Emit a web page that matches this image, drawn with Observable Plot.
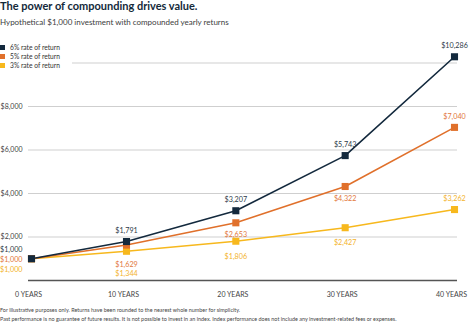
<!DOCTYPE html>
<html><head><meta charset="utf-8">
<script src="https://cdn.jsdelivr.net/npm/d3@7"></script>
<script src="https://cdn.jsdelivr.net/npm/@observablehq/plot@0.6"></script>
<style>
body{margin:0;width:474px;height:329px;overflow:hidden;position:relative;font-family:Lato,"Open Sans",sans-serif;background:#fff}
#title{position:absolute;left:0;top:-1px;font-weight:700;font-size:11px;line-height:14px;color:#13293a;white-space:nowrap}
#subtitle{position:absolute;left:0;top:16px;font-size:8px;line-height:12px;color:#3d3d3d;white-space:nowrap}
#chart{position:absolute;left:0;top:36px}
#legend{position:absolute;left:0;top:43px;width:72px;height:27px;background:#fff;font-size:6.7px;color:#333}
#legend div{position:relative;height:9px;line-height:9px;padding-left:10px;white-space:nowrap}
#legend span{position:absolute;left:0;top:2px;width:5px;height:5px}
#foot{position:absolute;left:0;top:306px;font-size:5.45px;line-height:9px;color:#444;white-space:nowrap}
</style></head><body>
<div id="title"></div>
<div id="subtitle"></div>
<div id="chart"></div>
<div id="legend"></div>
<div id="foot"></div>
<script>
const titleText = "The power of compounding drives value.";
const subtitleText = "Hypothetical $1,000 investment with compounded yearly returns";
const footLines = [
  "For illustrative purposes only. Returns have been rounded to the nearest whole number for simplicity.",
  "Past performance is no guarantee of future results. It is not possible to invest in an index. Index performance does not include any investment-related fees or expenses."
];
const years = [0, 10, 20, 30, 40];
const seriesNames = ["6% rate of return", "5% rate of return", "3% rate of return"];
const seriesColors = ["#13293d", "#e0702b", "#f7b81d"];
const labelColors = ["#2e3b48", "#e2783c", "#f3b32c"];
const r6 = [1000, 1791, 3207, 5743, 10286];
const r5 = [1000, 1629, 2653, 4322, 7040];
const r3 = [1000, 1344, 1806, 2427, 3262];
const yTicks = [2000, 4000, 6000, 8000];
const gridTicks = [2000, 4000, 6000, 8000, 10000];

document.getElementById("title").textContent = titleText;
document.getElementById("subtitle").textContent = subtitleText;
document.getElementById("foot").innerHTML = footLines.map(l => `<div>${l}</div>`).join("");
document.getElementById("legend").innerHTML = seriesNames.map((n, i) =>
  `<div><span style="background:${seriesColors[i]}"></span>${n}</div>`).join("");

const allValues = [r6, r5, r3];
const data = [];
allValues.forEach((vals, s) => vals.forEach((v, i) => data.push({series: seriesNames[s], s, i, year: years[i], value: v})));
const drawOrder = [2, 1, 0];
const fmt = d => "$" + d3.format(",")(d);

// label placement rules
function place(d) {
  const last = d.i === years.length - 1;
  if (d.i === 0) return {dy: [-9, 1, 11][d.s], dx: -9, anchor: "end"};
  if (d.s === 0 || last) return {dy: -11, dx: 0, anchor: "middle"};
  if (d.i === 1) return {dy: [0, 20, 22][d.s], dx: 0, anchor: "middle"};
  return {dy: d.s === 1 ? 12 : 15, dx: 0, anchor: "middle"};
}

const labelMarks = data.map(d => {
  const p = place(d);
  return Plot.text([d], {x: "year", y: "value", text: d => fmt(d.value), dy: p.dy, dx: p.dx,
    textAnchor: p.anchor, fill: labelColors[d.s], fontSize: 7.2});
});

const chart = Plot.plot({
  width: 474,
  height: 268,
  marginLeft: 28,
  marginRight: 17,
  marginTop: 0,
  marginBottom: 24,
  style: {fontFamily: "Lato, 'Open Sans', sans-serif", background: "transparent", overflow: "visible", fontSize: "7px", color: "#444"},
  x: {type: "linear", domain: [0, 10, 40], range: [31, 126, 454], ticks: years,
      tickFormat: d => `${d} YEARS`, tickSize: 0, tickPadding: 12, label: null},
  y: {domain: [0, 10000], range: [244, 26.5], ticks: yTicks, tickFormat: fmt,
      tickSize: 0, tickPadding: 6, label: null},
  color: {domain: seriesNames, range: seriesColors},
  marks: [
    Plot.ruleY(gridTicks, {stroke: "#cfcfcf", strokeWidth: 1}),
    Plot.ruleY([0], {stroke: "#555", strokeWidth: 1.3}),
    ...drawOrder.map(s => Plot.line(data.filter(d => d.s === s), {x: "year", y: "value", stroke: "series", strokeWidth: 1.6})),
    ...drawOrder.map(s => Plot.dot(data.filter(d => d.s === s), {x: "year", y: "value", fill: "series", symbol: "square", r: 4})),
    ...labelMarks
  ]
});
chart.querySelectorAll("text").forEach(t => {
  if (/YEARS$/.test(t.textContent)) t.setAttribute("dx", "-3");
});
document.getElementById("chart").appendChild(chart);
</script>
</body></html>
